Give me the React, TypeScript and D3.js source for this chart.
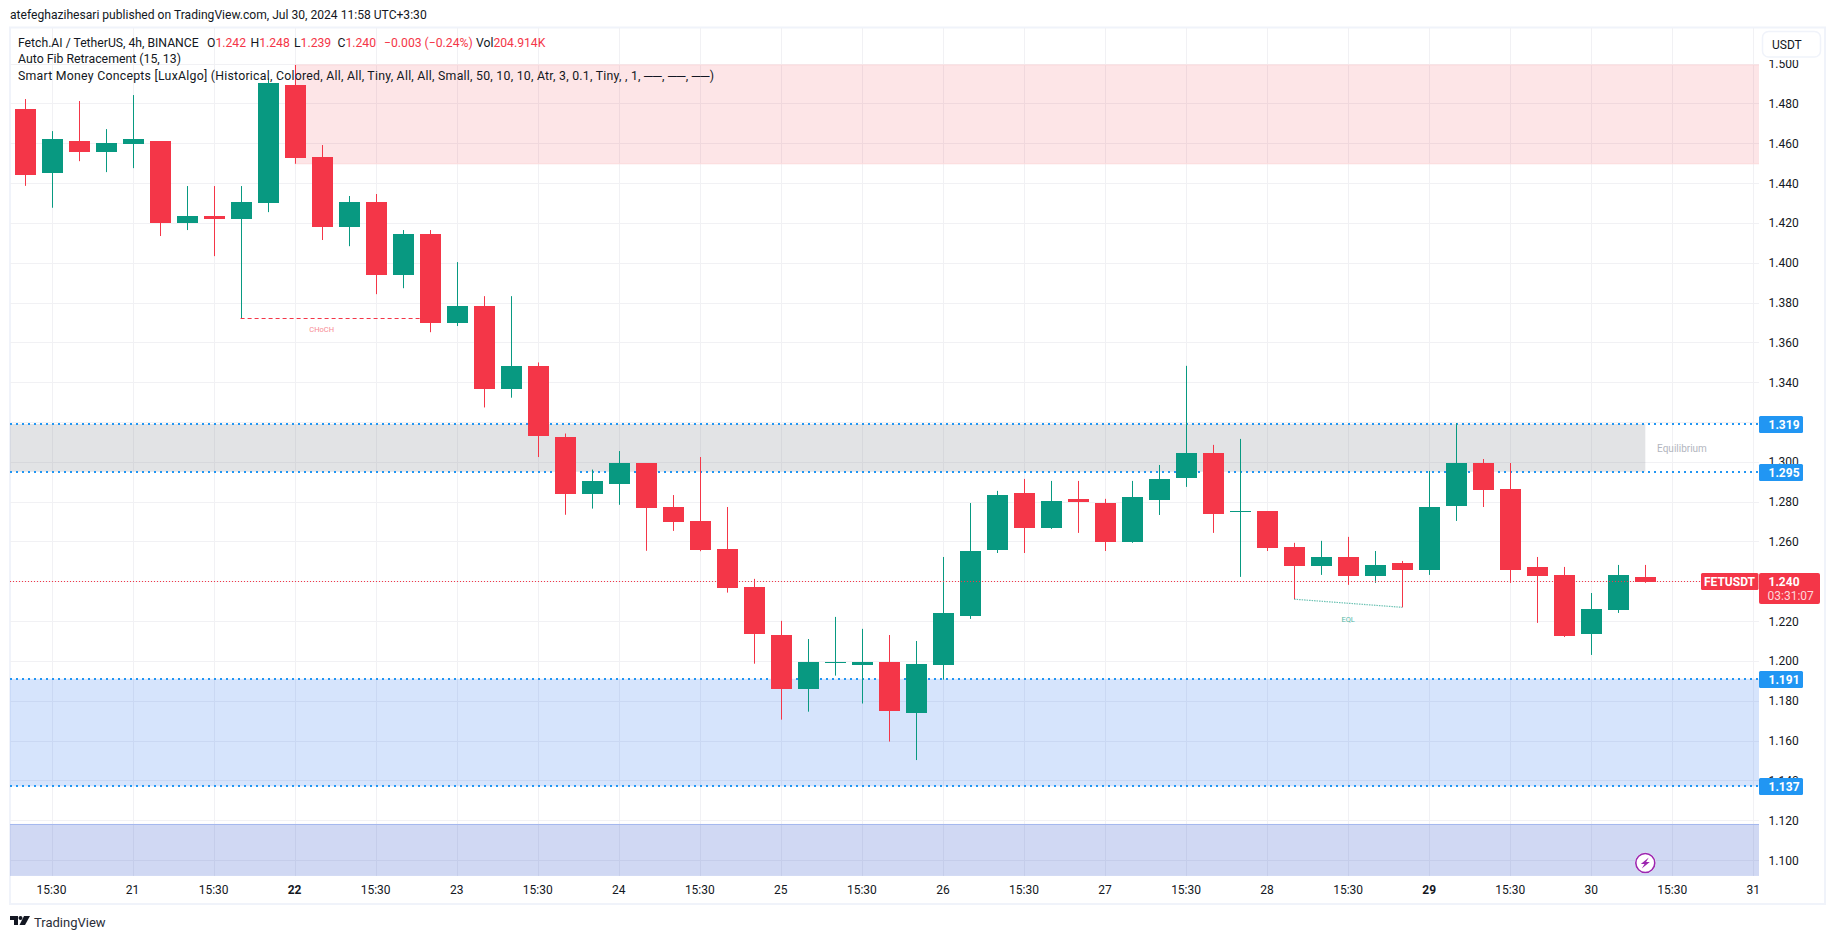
import React from "react";
import * as d3 from "d3";

const opens = [1.4772,1.4452,1.4611,1.4557,1.4597,1.4611,1.4201,1.4234,1.4219,1.4301,1.4892,1.4530,1.4180,1.4304,1.3939,1.4144,1.3698,1.3782,1.3367,1.3480,1.3124,1.2840,1.2889,1.2993,1.2772,1.2703,1.2562,1.2372,1.2130,1.1861,1.1990,1.1981,1.1995,1.1740,1.1981,1.2228,1.2559,1.2844,1.2670,1.2814,1.2793,1.2599,1.2809,1.2919,1.3045,1.2750,1.2753,1.2572,1.2477,1.2522,1.2427,1.2492,1.2457,1.2778,1.2994,1.2864,1.2472,1.2432,1.2135,1.2256,1.2422];
const closes = [1.4442,1.4621,1.4557,1.4601,1.4621,1.4201,1.4234,1.4219,1.4304,1.4902,1.4527,1.4180,1.4304,1.3939,1.4144,1.3698,1.3782,1.3367,1.3480,1.3129,1.2840,1.2903,1.2993,1.2768,1.2697,1.2557,1.2368,1.2137,1.1861,1.1995,1.1995,1.1995,1.1750,1.1985,1.2241,1.2552,1.2834,1.2670,1.2803,1.2800,1.2599,1.2824,1.2914,1.3045,1.2738,1.2753,1.2567,1.2477,1.2522,1.2427,1.2482,1.2457,1.2773,1.2994,1.2859,1.2457,1.2427,1.2125,1.2261,1.2432,1.2397];
const highs = [1.4822,1.4661,1.4812,1.4671,1.4842,1.4611,1.4385,1.4385,1.4385,1.4926,1.4993,1.4591,1.4335,1.4345,1.4164,1.4164,1.4003,1.3832,1.3832,1.3499,1.3142,1.2961,1.3054,1.2993,1.2833,1.3024,1.2773,1.2412,1.2201,1.2110,1.2221,1.2161,1.2130,1.2100,1.2522,1.2793,1.2854,1.2914,1.2904,1.2904,1.2814,1.2904,1.2984,1.3482,1.3085,1.3115,1.2753,1.2593,1.2603,1.2623,1.2552,1.2502,1.2954,1.3194,1.3014,1.2994,1.2522,1.2472,1.2341,1.2482,1.2482];
const lows = [1.4386,1.4276,1.4510,1.4455,1.4475,1.4134,1.4164,1.4033,1.3720,1.4254,1.4497,1.4114,1.4083,1.3842,1.3872,1.3651,1.3682,1.3273,1.3322,1.3024,1.2734,1.2765,1.2784,1.2553,1.2653,1.2551,1.2343,1.1986,1.1705,1.1745,1.1926,1.1786,1.1595,1.1502,1.1906,1.2211,1.2542,1.2542,1.2663,1.2643,1.2552,1.2593,1.2733,1.2874,1.2643,1.2422,1.2552,1.2310,1.2432,1.2382,1.2392,1.2269,1.2432,1.2703,1.2773,1.2392,1.2191,1.2120,1.2030,1.2241,1.2392];

const priceTicks = [1.10,1.12,1.14,1.16,1.18,1.20,1.22,1.24,1.26,1.28,1.30,1.32,1.34,1.36,1.38,1.40,1.42,1.44,1.46,1.48,1.50];
const timeTickIdx = [1,4,7,10,13,16,19,22,25,28,31,34,37,40,43,46,49,52,55,58,61,64];
const timeTickLabels = ["15:30","21","15:30","22","15:30","23","15:30","24","15:30","25","15:30","26","15:30","27","15:30","28","15:30","29","15:30","30","15:30","31"];
const boldTimeLabels = ["22","29"];

const fibLevels = [1.319,1.295,1.191,1.137];
const premiumZone = [1.4993,1.4497];
const equilibriumZone = [1.319,1.295];
const discountZone = [1.191,1.137];
const lowerZone = [1.1181,1.092];
const lastPrice = 1.24;
const chochLevel = 1.372;
const chochIdx = [8,15];
const chochLabelIdx = 11;
const eqlLevels = [1.2310,1.2269];
const eqlIdx = [47,51];

const legendValues = [["O","1.242"],["H","1.248"],["L","1.239"],["C","1.240"]];

const PANE = { l: 10, r: 1759, t: 28, b: 876 };
const y = d3.scaleLinear().domain([1.1, 1.5]).range([860, 63.6]);
const x = d3.scaleLinear().domain([0, 60]).range([24.5, 1645.3]);

const UP = "#089981";
const DOWN = "#f43648";
const BLUE = "#2196f3";
const FONT = "Roboto, 'Liberation Sans', sans-serif";
const TXT = "#131722";
const GRID = "#f1f1f4";

function Zone({ a, b, fill, x0 = PANE.l, x1 = PANE.r }: { a: number; b: number; fill: string; x0?: number; x1?: number }) {
  return <rect x={x0} width={x1 - x0} y={y(a)} height={y(b) - y(a)} fill={fill} />;
}

export default function App() {
  const crisp = (v: number) => Math.round(v) + 0.5;
  const eqlPath = d3.line<number>().x((_, i) => x(eqlIdx[i])).y((d) => y(d))(eqlLevels) as string;
  return (
    <svg width={1835} height={939} style={{ position: "absolute", left: 0, top: 0, display: "block", background: "#fff" }} fontFamily={FONT}>
      <text x={10} y={19} fontSize={12.1} fill={TXT}>atefeghazihesari published on TradingView.com, Jul 30, 2024 11:58 UTC+3:30</text>

      {/* frame */}
      <rect x={10} y={27.5} width={1815} height={876.5} fill="none" stroke="#f0f3fa" strokeWidth={2} />

      {/* grid */}
      {priceTicks.map((p) => (
        <line key={p} x1={PANE.l} x2={PANE.r} y1={crisp(y(p))} y2={crisp(y(p))} stroke={GRID} />
      ))}
      {timeTickIdx.map((i) => (
        <line key={i} x1={crisp(x(i))} x2={crisp(x(i))} y1={PANE.t} y2={PANE.b} stroke={GRID} />
      ))}

      {/* zones */}
      <Zone a={premiumZone[0]} b={premiumZone[1]} fill="rgba(242,54,69,0.13)" x0={x(10)} />
      <line x1={x(10)} x2={PANE.r} y1={y(premiumZone[0])} y2={y(premiumZone[0])} stroke="#fbd9db" />
      <line x1={x(10)} x2={PANE.r} y1={y(premiumZone[1])} y2={y(premiumZone[1])} stroke="#fbd9db" />
      <Zone a={equilibriumZone[0]} b={equilibriumZone[1]} fill="rgba(120,123,134,0.21)" x1={x(60)} />
      <Zone a={discountZone[0]} b={discountZone[1]} fill="rgba(33,110,240,0.185)" />
      <Zone a={lowerZone[0]} b={lowerZone[1]} fill="rgba(33,70,200,0.21)" />
      <line x1={PANE.l} x2={PANE.r} y1={crisp(y(lowerZone[0]))} y2={crisp(y(lowerZone[0]))} stroke="#a5b8ee" />
      <text x={1682} y={452} textAnchor="middle" fontSize={10} fill="#b2b5be">Equilibrium</text>

      {/* fib lines */}
      {fibLevels.map((p) => (
        <line key={p} x1={PANE.l} x2={PANE.r} y1={Math.round(y(p))} y2={Math.round(y(p))} stroke={BLUE} strokeWidth={2} strokeDasharray="2 4" />
      ))}

      {/* candles */}
      {opens.map((o, i) => {
        const c = closes[i];
        const col = c >= o ? UP : DOWN;
        const top = Math.round(y(Math.max(o, c)));
        const bot = Math.round(y(Math.min(o, c)));
        const cx = Math.round(x(i));
        return (
          <g key={i}>
            <rect x={cx} width={1} y={y(highs[i])} height={y(lows[i]) - y(highs[i])} fill={col} />
            <rect x={cx - 10} width={21} y={top} height={Math.max(1, bot - top)} fill={col} />
          </g>
        );
      })}

      {/* CHoCH */}
      <line x1={x(chochIdx[0])} x2={x(chochIdx[1])} y1={crisp(y(chochLevel))} y2={crisp(y(chochLevel))} stroke={DOWN} strokeDasharray="4 3" />
      <text x={x(chochLabelIdx)} y={332} textAnchor="middle" fontSize={7.5} fill="#f78b94">CHoCH</text>

      {/* EQL */}
      <path d={eqlPath} fill="none" stroke={UP} strokeOpacity={0.6} strokeWidth={1.2} strokeDasharray="1.5 1" />
      <text x={(x(eqlIdx[0]) + x(eqlIdx[1])) / 2} y={621.5} textAnchor="middle" fontSize={7.5} fill="#52b8a6">EQL</text>

      {/* last price line */}
      <line x1={PANE.l} x2={1701} y1={crisp(y(lastPrice))} y2={crisp(y(lastPrice))} stroke={DOWN} strokeDasharray="1 2" />

      {/* lightning icon */}
      <g transform={`translate(${x(60)},863)`}>
        <circle r={10.5} fill="#fff" />
        <circle r={9.5} fill="#fff" stroke="#9c27b0" strokeWidth={1.6} />
        <path d="M3.5,-5.5 L-4.5,1 L-0.8,1 L-3.5,5.5 L4.5,-1 L0.8,-1 Z" fill="#9c27b0" />
      </g>

      {/* axes */}
      {priceTicks.map((p) => (
        <text key={p} x={1768.5} y={y(p) + 4.5} fontSize={12} fill={TXT}>{p.toFixed(3)}</text>
      ))}
      {timeTickIdx.map((i, k) => (
        <text key={i} x={x(i)} y={894} textAnchor="middle" fontSize={12} fill={TXT}
          fontWeight={boldTimeLabels.includes(timeTickLabels[k]) ? 700 : 400}>{timeTickLabels[k]}</text>
      ))}

      {/* price labels */}
      {fibLevels.map((p) => (
        <g key={p}>
          <rect x={1759} width={44} y={Math.round(y(p)) - 8} height={17} rx={1.5} fill={BLUE} />
          <text x={1768.5} y={Math.round(y(p)) + 5} fontSize={12} fontWeight={700} fill="#fff">{p.toFixed(3)}</text>
        </g>
      ))}
      <rect x={1701} y={573} width={57.5} height={17} rx={1.5} fill={DOWN} />
      <text x={1729.5} y={586} textAnchor="middle" fontSize={12} fontWeight={700} fill="#fff">FETUSDT</text>
      <rect x={1759} y={573} width={61} height={31} rx={2} fill={DOWN} />
      <text x={1768.5} y={586} fontSize={12} fontWeight={700} fill="#fff">{lastPrice.toFixed(3)}</text>
      <text x={1767.5} y={600} fontSize={12} fill="#fdd7da">03:31:07</text>

      {/* USDT button */}
      <rect x={1760} y={29} width={63} height={31} fill="#fff" />
      <rect x={1762.5} y={31.5} width={58} height={25.5} rx={6} fill="#fff" stroke="#f0f3fa" strokeWidth={1.5} />
      <text x={1772} y={48.5} fontSize={12} fill={TXT}>USDT</text>

      {/* legend */}
      <text y={46.5} fontSize={12.2} fill={TXT}>
        <tspan x={18}>Fetch.AI / TetherUS, 4h, BINANCE</tspan>
        {legendValues.map(([k, v], i) => (
          <tspan key={k} x={207 + i * 43.5}>{k}<tspan fill={DOWN}>{v}</tspan></tspan>
        ))}
        <tspan x={384} fill={DOWN}>−0.003 (−0.24%)</tspan>
        <tspan x={476}>Vol<tspan fill={DOWN}>204.914K</tspan></tspan>
      </text>
      <text x={18} y={63} fontSize={12.3} fill={TXT}>Auto Fib Retracement (15, 13)</text>
      <text x={18} y={80} fontSize={12.3} fill={TXT} textLength={696} lengthAdjust="spacing">Smart Money Concepts [LuxAlgo] (Historical, Colored, All, All, Tiny, All, All, Small, 50, 10, 10, Atr, 3, 0.1, Tiny, , 1, ──, ──, ──)</text>

      {/* TradingView logo */}
      <g transform="translate(10,916)" fill={TXT}>
        <path d="M0,0 H8 V9 H4 V4 H0 Z" />
        <circle cx={10.5} cy={2} r={2} />
        <path d="M14,0 H20 L15,9 H9.5 Z" />
      </g>
      <text x={34} y={926.5} fontSize={13} fill="#2a2e39">TradingView</text>
    </svg>
  );
}
